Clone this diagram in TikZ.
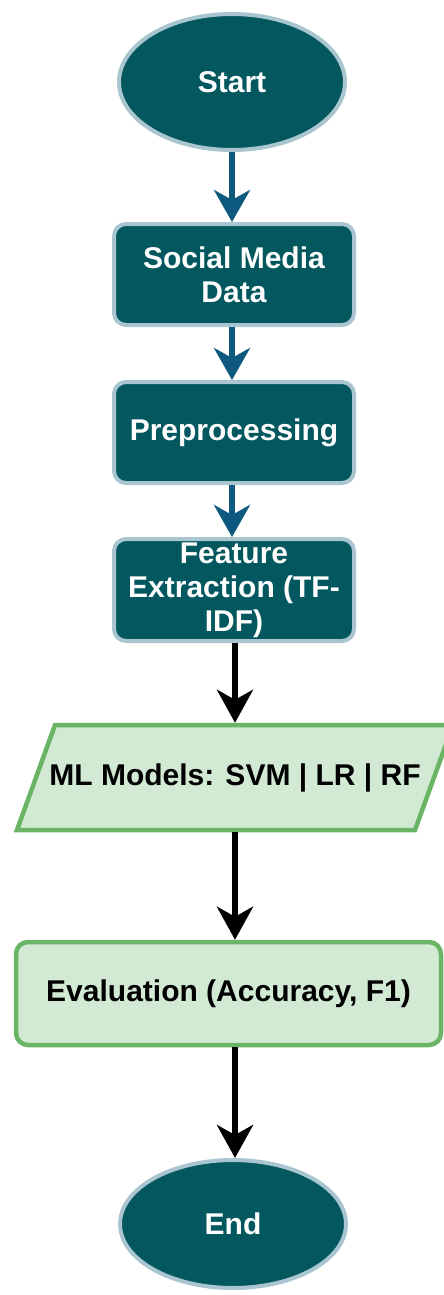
\documentclass[tikz,border=0pt]{standalone}
\usepackage{fontspec}
\setmainfont{Liberation Sans}
\usetikzlibrary{shapes.geometric,arrows.meta}

\definecolor{tealfill}{HTML}{03575F}
\definecolor{tealedge}{HTML}{A9C5D0}
\definecolor{flowblue}{HTML}{0E5A7E}
\definecolor{mintfill}{HTML}{D2E9D4}
\definecolor{mintedge}{HTML}{6AB466}

\tikzset{
  label font/.style={font=\bfseries\fontsize{30}{34}\selectfont},
  terminal/.style={shape=ellipse, draw=tealedge, line width=4pt, fill=tealfill,
    text=white, label font, inner sep=0pt},
  darkbox/.style={shape=rectangle, rounded corners=12pt, draw=tealedge, line width=4pt,
    fill=tealfill, text=white, label font, align=center, inner sep=0pt,
    minimum width=240pt},
  lightbox/.style={shape=rectangle, rounded corners=12pt, draw=mintedge, line width=4.5pt,
    fill=mintfill, text=black, label font, align=center, inner sep=0pt},
  iotext/.style={shape=rectangle, text=black, label font, inner sep=0pt, minimum height=109pt},
  iobox/.style={draw=mintedge, line width=4.5pt, fill=mintfill, line join=miter},
  blueflow/.style={draw=flowblue, line width=6.5pt,
    -{Stealth[length=32pt, width=36pt, inset=10pt]}},
  blackflow/.style={draw=black, line width=6pt,
    -{Stealth[length=33pt, width=36pt, inset=10pt]}},
}

\begin{document}
\begin{tikzpicture}[x=1pt, y=-1pt]
  \useasboundingbox (0,0) rectangle (444,1295);
  \clip (0,0) rectangle (444,1295);

  % process chain
  \node[terminal, minimum width=226pt, minimum height=136pt] (start) at (232,82) {Start};
  \node[darkbox, minimum height=101pt] (social) at (234,274.5) {Social Media\\Data};
  \node[darkbox, minimum height=101pt] (prep) at (234,432.5) {Preprocessing};
  \node[darkbox, minimum height=102pt] (feat) at (234,590) {Feature\\Extraction (TF-\\IDF)};

  % input/output parallelogram for the models
  \draw[iobox] (17,830) -- (415,830) -- (453,725) -- (55,725) -- cycle;
  \node[iotext] (ml) at (235,777.5) {ML Models: SVM | LR | RF};

  \node[lightbox, minimum width=425pt, minimum height=103pt] (eval) at (228.5,993.5)
    {Evaluation (Accuracy, F1)};
  \node[terminal, minimum width=226pt, minimum height=128pt] (end) at (233,1224) {End};

  % connectors
  \draw[blueflow] (start.south) -- (social.north -| start.south);
  \draw[blueflow] (social.south -| start.south) -- (prep.north -| start.south);
  \draw[blueflow] (prep.south -| start.south) -- (feat.north -| start.south);
  \draw[blackflow] (feat.south -| ml.north) -- (ml.north);
  \draw[blackflow] (ml.south) -- (ml.south |- eval.north);
  \draw[blackflow] (eval.south -| ml.south) -- (end.north -| ml.south);
\end{tikzpicture}
\end{document}
